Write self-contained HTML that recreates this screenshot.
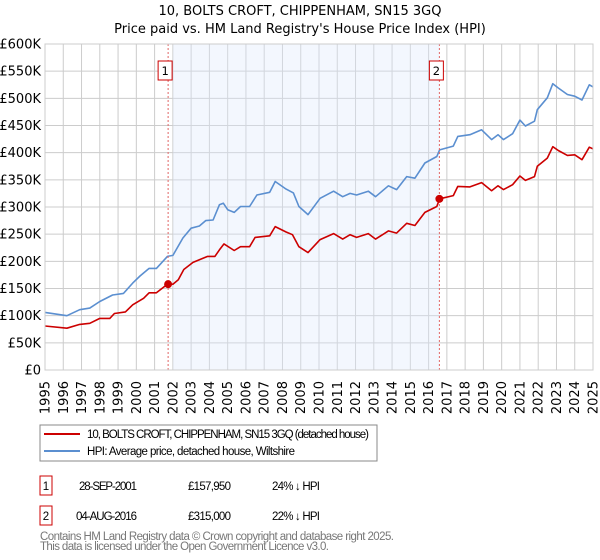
<!DOCTYPE html>
<html><head><meta charset="utf-8"><style>
body{margin:0;background:#fff;font-family:"Liberation Sans","DejaVu Sans",sans-serif;}
#wrap{position:relative;width:600px;height:560px;overflow:hidden;}
svg text{font-family:"DejaVu Sans","Liberation Sans",sans-serif;}
svg text.lib{font-family:"Liberation Sans","DejaVu Sans",sans-serif;}
</style></head><body>
<div id="wrap">
<svg id="chart" width="600" height="560" xmlns="http://www.w3.org/2000/svg">
<text x="300" y="15" text-anchor="middle" font-size="13" fill="#000">10, BOLTS CROFT, CHIPPENHAM, SN15 3GQ</text>
<text x="300" y="33" text-anchor="middle" font-size="13" fill="#000">Price paid vs. HM Land Registry's House Price Index (HPI)</text>
<g id="grid"></g><g id="shade"></g><g id="series"></g><g id="axes"></g>
<rect x="40" y="425" width="337" height="36" fill="#fff" stroke="#888"/>
<line x1="44" y1="434" x2="80" y2="434" stroke="#cc0000" stroke-width="2"/>
<text class="lib" x="87" y="438" font-size="11.5" textLength="282">10, BOLTS CROFT, CHIPPENHAM, SN15 3GQ (detached house)</text>
<line x1="44" y1="451" x2="80" y2="451" stroke="#5b8fd0" stroke-width="2"/>
<text class="lib" x="87" y="455" font-size="11.5" textLength="208">HPI: Average price, detached house, Wiltshire</text>
<g>
<rect x="40" y="476" width="12" height="19" fill="#fff" stroke="#cc0000"/>
<text class="lib" x="46" y="490" text-anchor="middle" font-size="11.5">1</text>
<text class="lib" x="79" y="490" font-size="11.5" textLength="58">28-SEP-2001</text>
<text class="lib" x="188" y="490" font-size="11.5" textLength="43">£157,950</text>
<text class="lib" x="272" y="490" font-size="11.5" textLength="48">24% ↓ HPI</text></g>
<g>
<rect x="40" y="506" width="12" height="19" fill="#fff" stroke="#cc0000"/>
<text class="lib" x="46" y="520" text-anchor="middle" font-size="11.5">2</text>
<text class="lib" x="76" y="520" font-size="11.5" textLength="61">04-AUG-2016</text>
<text class="lib" x="188" y="520" font-size="11.5" textLength="43">£315,000</text>
<text class="lib" x="272" y="520" font-size="11.5" textLength="48">22% ↓ HPI</text></g>
<text class="lib" x="40" y="540" font-size="11.5" fill="#777" textLength="354">Contains HM Land Registry data © Crown copyright and database right 2025.</text>
<text class="lib" x="40" y="550" font-size="11.5" fill="#777" textLength="289">This data is licensed under the Open Government Licence v3.0.</text>
</svg></div>
<script>
const hpiYears=[1995.0,1996.2,1996.9,1997.45,1998.0,1998.7,1999.3,1999.8,2000.2,2000.7,2001.1,2001.7,2002.0,2002.55,2003.0,2003.45,2003.8,2004.2,2004.55,2004.76,2005.0,2005.36,2005.7,2006.2,2006.6,2007.3,2007.6,2008.2,2008.6,2008.9,2009.4,2010.06,2010.8,2011.3,2011.7,2012.06,2012.7,2013.1,2013.8,2014.25,2014.8,2015.25,2015.8,2016.45,2016.6,2017.35,2017.6,2018.26,2018.9,2019.45,2019.8,2020.1,2020.6,2021.0,2021.3,2021.8,2021.95,2022.5,2022.8,2023.1,2023.6,2024.0,2024.4,2024.8,2025.0];
const hpiValues=[106,100,111,114,126,138,141,160,173,187,187,209,211,243,261,265,275,276,304,307,295,290,301,301,322,327,347,333,326,301,286,316,329,319,325,322,329,319,339,332,356,353,381,393,405,412,430,433,442,424,433,424,435,460,449,458,479,501,527,519,507,504,497,525,521];
const propYears=[1995.0,1996.2,1996.9,1997.45,1998.0,1998.55,1998.8,1999.4,1999.8,2000.4,2000.7,2001.1,2001.7,2002.0,2002.3,2002.6,2003.1,2003.6,2003.9,2004.3,2004.55,2004.8,2005.36,2005.7,2006.2,2006.5,2007.3,2007.6,2008.2,2008.55,2008.9,2009.4,2010.06,2010.8,2011.3,2011.7,2012.06,2012.7,2013.1,2013.8,2014.25,2014.8,2015.25,2015.8,2016.45,2016.6,2017.35,2017.6,2018.26,2018.9,2019.45,2019.8,2020.1,2020.6,2021.0,2021.3,2021.8,2021.95,2022.5,2022.8,2023.1,2023.6,2024.0,2024.4,2024.8,2025.0];
const propValues=[81,77,84,86,95,95,104,107,120,132,142,142,158,158,166,185,198,205,209,209,221,232,220,227,227,244,247,264,254,249,227,216,240,251,241,249,244,251,241,256,252,270,266,290,301,315,321,338,337,345,330,339,332,341,357,349,356,375,390,411,404,395,396,387,410,407];
const saleYears=[2001.74,2016.59];
const saleValues=[157.95,315];
const saleLabels=["1","2"];
const yTicks=[0,50,100,150,200,250,300,350,400,450,500,550,600];
const yTickLabels=["£0","£50K","£100K","£150K","£200K","£250K","£300K","£350K","£400K","£450K","£500K","£550K","£600K"];
const xTicks=[1995,1996,1997,1998,1999,2000,2001,2002,2003,2004,2005,2006,2007,2008,2009,2010,2011,2012,2013,2014,2015,2016,2017,2018,2019,2020,2021,2022,2023,2024,2025];
const NS="http://www.w3.org/2000/svg";
const X0=45,X1=593,Y0=370,Y1=44;
const xs=y=>X0+(y-1995)/30*(X1-X0);
const ys=v=>Y0-v/600*(Y0-Y1);
function mk(tag,attrs,parent){const e=document.createElementNS(NS,tag);for(const k in attrs)e.setAttribute(k,attrs[k]);parent.appendChild(e);return e;}
const grid=document.getElementById('grid'),shade=document.getElementById('shade'),series=document.getElementById('series'),axes=document.getElementById('axes');
yTicks.forEach((v,i)=>{
 const l=mk('line',{x1:X0,x2:X1,y1:ys(v),y2:ys(v),stroke:'#cccccc','stroke-width':1},grid);
 
 
 const t=mk('text',{x:X0-4,y:ys(v)+4.5,'text-anchor':'end','font-size':13},axes);
 t.textContent=yTickLabels[i];
 
 
});
xTicks.forEach(yr=>{
 const l=mk('line',{x1:xs(yr),x2:xs(yr),y1:Y1,y2:Y0,stroke:'#cccccc','stroke-width':1},grid);
 
 
 const t=mk('text',{x:xs(yr)+4.5,y:381,'text-anchor':'end','font-size':13,transform:`rotate(-90 ${xs(yr)+4.5} 381)`},axes);
 t.textContent=yr;
 
 
});
const sh=mk('rect',{x:xs(2002),y:Y1,width:xs(saleYears[1])-xs(2002),height:Y0-Y1,fill:'#dde7fb','fill-opacity':0.35},shade);


function line(yrs,vals,color,name){
 const p=mk('polyline',{points:yrs.map((y,i)=>xs(y).toFixed(1)+','+ys(vals[i]).toFixed(1)).join(' '),fill:'none',stroke:color,'stroke-width':1.6,'stroke-linejoin':'round'},series);
 
 
}
line(hpiYears,hpiValues,'#5b8fd0','hpi-line');
line(propYears,propValues,'#cc0000','property-price-line');
saleYears.forEach((y,i)=>{
 const v=mk('line',{x1:xs(y),x2:xs(y),y1:Y1,y2:Y0,stroke:'#e06666','stroke-width':1,'stroke-dasharray':'2,2'},series);
 
 
 const d=mk('circle',{cx:xs(y),cy:ys(saleValues[i]),r:4,fill:'#cc0000'},series);
 
 
 const b=mk('rect',{x:xs(y)-10,y:61,width:14,height:19,fill:'#fff',stroke:'#cc0000'},series);
 
 
 const t=mk('text',{x:xs(y)-3,y:75,'text-anchor':'middle','font-size':11.5},series);
 t.textContent=saleLabels[i];
 
 
});
const fr=mk('rect',{x:X0,y:Y1,width:X1-X0,height:Y0-Y1,fill:'none',stroke:'#cccccc'},axes);


</script>
</body></html>
